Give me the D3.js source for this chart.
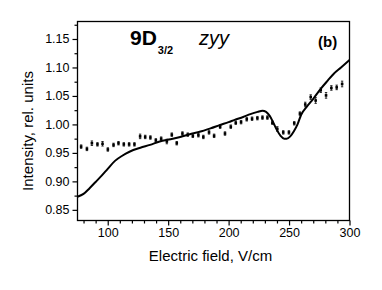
<!DOCTYPE html>
<html><head><meta charset="utf-8">
<script src="https://cdn.jsdelivr.net/npm/d3@7/dist/d3.min.js"></script>
<style>body{margin:0;background:#fff}svg{display:block}text{font-family:"Liberation Sans",Arial,sans-serif;fill:#000}</style>
</head><body><svg id="c" width="382" height="290"></svg>
<script>
// measured data points (field V/cm, intensity, error)
const fieldPts = [78,82.8,86.9,91.5,95.7,100.1,104.8,108.9,113.3,117.7,122.1,126.8,131,135.3,139.8,144.2,148.9,153,157.1,161.8,166.2,170.4,175,179.1,183.8,188,193,197,201.8,205.9,210.3,215,219.4,223.8,228,232.1,236.2,240.3,245.2,249.9,254.3,259,263.4,267.9,272,276.2,280.6,285,289.4,293.9];
const intensityPts = [0.961,0.957,0.967,0.965,0.966,0.956,0.964,0.967,0.965,0.965,0.965,0.979,0.978,0.977,0.972,0.975,0.970,0.982,0.967,0.984,0.982,0.980,0.981,0.978,0.986,0.980,0.996,0.984,0.996,1.003,1.004,1.009,1.010,1.011,1.012,1.012,1.003,0.992,0.986,0.986,1.002,1.019,1.035,1.048,1.042,1.060,1.051,1.064,1.065,1.071];
const errPts = [0.003,0.003,0.004,0.003,0.004,0.003,0.003,0.003,0.003,0.003,0.003,0.004,0.003,0.003,0.003,0.003,0.004,0.003,0.003,0.003,0.003,0.003,0.003,0.003,0.003,0.003,0.003,0.003,0.003,0.003,0.003,0.003,0.003,0.003,0.003,0.003,0.003,0.004,0.003,0.003,0.003,0.003,0.004,0.004,0.005,0.004,0.005,0.004,0.004,0.005];
// calculated curve
const fieldCurve = [75,80,85,90,95,100,106,112,118,127,135,143,152,160,170,176,185,193,200,205,212,218,224,228,231,234,237,240,243,246,248,251,254,257,260,265,270,276,282,287,293,300];
const intensityCurve = [0.873,0.878,0.888,0.899,0.910,0.922,0.936,0.945,0.952,0.959,0.964,0.970,0.974,0.978,0.984,0.987,0.993,0.999,1.004,1.008,1.013,1.018,1.022,1.024,1.022,1.015,1.003,0.990,0.980,0.975,0.975,0.979,0.988,1.000,1.017,1.032,1.045,1.062,1.077,1.089,1.100,1.113];
const xTicks = [100,150,200,250,300];
const yTicks = [0.85,0.90,0.95,1.00,1.05,1.10,1.15];

const svg = d3.select("#c");
const L=77.5,R=349.5,T=21.5,B=220.5;
const x = d3.scaleLinear().domain([75,300]).range([L,R]);
const y = d3.scaleLinear().domain([0.8313,1.1807]).range([B,T]);

// frame
svg.append("rect").attr("x",L).attr("y",T).attr("width",R-L).attr("height",B-T)
  .attr("fill","none").attr("stroke","#000").attr("stroke-width",1.3);

// axes
const xa = svg.append("g").attr("transform",`translate(0,${B})`)
  .call(d3.axisBottom(x).tickValues(xTicks).tickSize(5).tickPadding(3).tickFormat(d3.format("d")));
const xm = svg.append("g").attr("transform",`translate(0,${B})`)
  .call(d3.axisBottom(x).tickValues(d3.range(80,300,10).filter(v=>v%50)).tickSize(3).tickFormat(""));
const ya = svg.append("g").attr("transform",`translate(${L},0)`)
  .call(d3.axisLeft(y).tickValues(yTicks).tickSize(5).tickPadding(3).tickFormat(d3.format(".2f")));
const ym = svg.append("g").attr("transform",`translate(${L},0)`)
  .call(d3.axisLeft(y).tickValues([0.875,0.925,0.975,1.025,1.075,1.125,1.175]).tickSize(3).tickFormat(""));
[xa,xm,ya,ym].forEach(g=>{g.select(".domain").remove();g.selectAll("line").attr("stroke","#000").attr("stroke-width",1.2);
  g.selectAll("text").attr("font-size",12.5).attr("font-family","Liberation Sans, Arial, sans-serif").attr("fill","#000");});

// curve
svg.append("path").datum(fieldCurve.map((f,i)=>[f,intensityCurve[i]]))
  .attr("d",d3.line().x(d=>x(d[0])).y(d=>y(d[1])).curve(d3.curveMonotoneX))
  .attr("fill","none").attr("stroke","#000").attr("stroke-width",2);

// points with error bars
const pts = svg.append("g");
fieldPts.forEach((f,i)=>{
  const cx=x(f), cy=y(intensityPts[i]);
  pts.append("line").attr("x1",cx).attr("x2",cx).attr("y1",y(intensityPts[i]-errPts[i])).attr("y2",y(intensityPts[i]+errPts[i])).attr("stroke","#000").attr("stroke-width",0.8);
  [-1,1].forEach(s=>pts.append("line").attr("x1",cx-1.2).attr("x2",cx+1.2).attr("y1",y(intensityPts[i]+s*errPts[i])).attr("y2",y(intensityPts[i]+s*errPts[i])).attr("stroke","#000").attr("stroke-width",0.8));
  pts.append("rect").attr("x",cx-1.3).attr("y",cy-1.3).attr("width",2.6).attr("height",2.6).attr("fill","#000");
});

// labels
svg.append("text").attr("x",210.5).attr("y",261).attr("text-anchor","middle").attr("font-size",15).text("Electric field, V/cm");
svg.append("text").attr("transform","translate(33,131) rotate(-90)").attr("text-anchor","middle").attr("font-size",15).text("Intensity, rel. units");
const t = svg.append("text").attr("x",130).attr("y",45).attr("font-weight","bold").attr("font-size",21);
t.append("tspan").text("9D");
t.append("tspan").attr("font-size",11).attr("dy",9).attr("dx",1).text("3/2");
svg.append("text").attr("x",199).attr("y",45).attr("font-style","italic").attr("font-size",20).text("zyy");
svg.append("text").attr("x",318).attr("y",47).attr("font-weight","bold").attr("font-size",15).text("(b)");
</script></body></html>
